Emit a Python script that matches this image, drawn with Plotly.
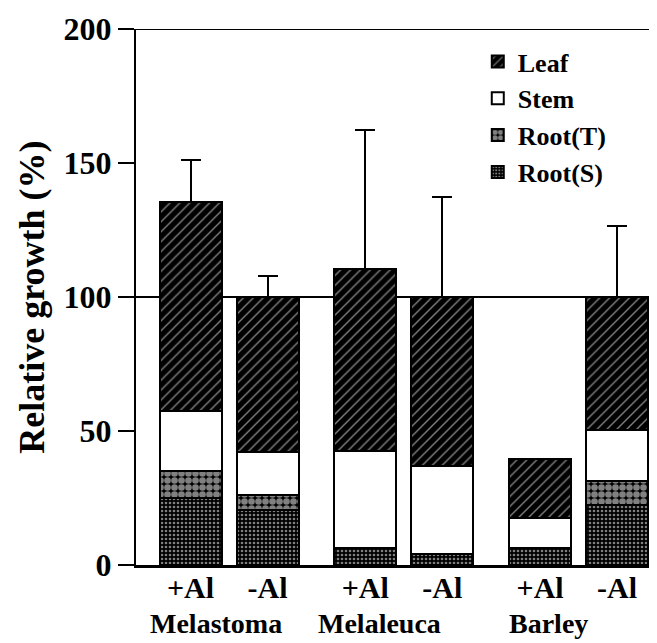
import plotly.graph_objects as go

groups = ["Melastoma", "Melaleuca", "Barley"]
treatments = ["+Al", "-Al"]
root_s = [25, 20.5, 6.5, 4, 6.5, 22.5]
root_t = [10, 5.5, 0, 0, 0, 9]
stem = [22.5, 16, 36, 33, 11, 19]
leaf = [78, 58, 68, 63, 22, 49.5]
err_up = [15.5, 7.7, 51.7, 37.4, None, 26.4]
yticks = [0, 50, 100, 150, 200]

GAP = 2.27
xpos = [g * GAP + t for g in range(len(groups)) for t in range(len(treatments))]
xlabels = [t for g in groups for t in treatments]
label_shift = [-13, -24, -30]  # group labels sit a little left of the bar pairs

FONT = "Liberation Serif"
BW = 0.805
line = dict(color="black", width=2)

fig = go.Figure()
fig.add_trace(go.Bar(name="Root(S)", x=xpos, y=root_s, width=BW, legendgroup="rs",
                     marker=dict(color="black", line=line,
                                 pattern=dict(shape=".", fgcolor="white", bgcolor="black",
                                              size=4, solidity=0.35))))
fig.add_trace(go.Bar(name="Root(T)", x=xpos, y=root_t, width=BW, legendgroup="rt",
                     marker=dict(color="black", line=line,
                                 pattern=dict(shape=".", fgcolor="white", bgcolor="black",
                                              size=7, solidity=0.7))))
fig.add_trace(go.Bar(name="Stem", x=xpos, y=stem, width=BW, legendgroup="st",
                     marker=dict(color="white", line=line)))
fig.add_trace(go.Bar(name="Leaf", x=xpos, y=leaf, width=BW, legendgroup="lf",
                     marker=dict(color="black", line=line,
                                 pattern=dict(shape="/", fgcolor="white", bgcolor="black",
                                              size=7, solidity=0.2)),
                     error_y=dict(type="data", symmetric=False, array=err_up,
                                  arrayminus=[0] * len(err_up), color="black",
                                  thickness=2, width=10)))

# horizontal reference lines at 100 and 200
for yv in (100, 200):
    fig.add_shape(type="line", xref="paper", yref="y", x0=0, x1=1, y0=yv, y1=yv,
                  line=dict(color="black", width=2), layer="below")

# group labels
for g, name in enumerate(groups):
    fig.add_annotation(x=g * GAP + 0.5, y=-0.11, xref="x", yref="paper", text=name,
                       showarrow=False, xshift=label_shift[g],
                       font=dict(family=FONT, size=28, color="black", weight="bold"),
                       xanchor="center", yanchor="middle")

fig.add_annotation(x=-0.2, y=0.5, xref="paper", yref="paper", text="Relative growth (%)",
                   textangle=-90, showarrow=False, xanchor="center", yanchor="middle",
                   font=dict(family=FONT, size=36, color="black", weight="bold"))

# page body has an 8px margin, so the figure is sized/placed to compensate
fig.update_layout(
    width=649, height=635, barmode="stack", bargap=0,
    plot_bgcolor="white", paper_bgcolor="white",
    margin=dict(l=128, r=0, t=21, b=78),
    font=dict(family=FONT, color="black"),
    legend=dict(x=0.656, y=0.983, xanchor="left", yanchor="top", traceorder="reversed",
                tracegroupgap=16, bgcolor="rgba(0,0,0,0)",
                font=dict(family=FONT, size=26, color="black", weight="bold")),
    xaxis=dict(range=[-0.708, 6.058], tickvals=xpos, ticktext=xlabels, ticks="",
               showline=True, linecolor="black", linewidth=3, showgrid=False,
               zeroline=False, ticklabelstandoff=-6,
               tickfont=dict(family=FONT, size=30, color="black", weight="bold")),
    yaxis=dict(range=[0, 200], tickvals=yticks, ticks="outside", ticklen=16, tickwidth=2,
               tickcolor="black", showline=True, linecolor="black", linewidth=2,
               showgrid=False, zeroline=False,
               tickfont=dict(family=FONT, size=32, color="black", weight="bold")),
)

fig.write_html("out.html")
